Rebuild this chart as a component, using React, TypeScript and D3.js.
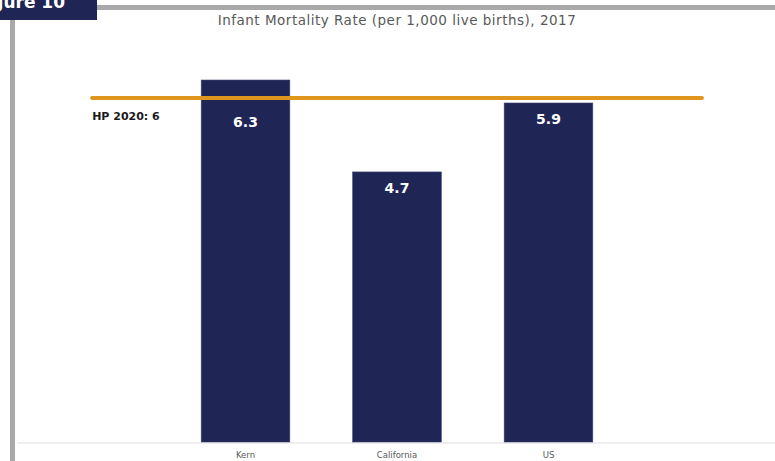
import React from "react";
import * as d3 from "d3";

const categories = ["Kern", "California", "US"];
const rates = [6.3, 4.7, 5.9];
const targetLabel = "HP 2020: 6";
const targetValue = 6;
const title = "Infant Mortality Rate (per 1,000 live births), 2017";
const figureTag = "Figure 10";

const W = 775;
const H = 461;
const NAVY = "#1f2656";
const ORANGE = "#e0951c";
const FONT = "'DejaVu Sans', Verdana, sans-serif";

export default function App() {
  const x = d3
    .scaleBand<string>()
    .domain(categories)
    .range([17, 777])
    .paddingInner(0.415)
    .paddingOuter(1.216);
  const y = d3.scaleLinear().domain([0, 7]).range([442, 39.8]);

  const step = x.step();
  const lineX1 = (x(categories[0]) as number) - step * 0.72;
  const lineX2 = (x(categories[categories.length - 1]) as number) + x.bandwidth() + step * 0.72;
  const yTarget = y(targetValue);

  return (
    <div style={{ position: "fixed", left: 0, top: 0 }}>
      <svg width={W} height={H} style={{ display: "block", background: "#fff" }}>
        {/* frame */}
        <rect x={0} y={5} width={W} height={5} fill="#a9a9a9" />
        <rect x={10} y={5} width={5} height={H} fill="#a9a9a9" />
        <rect x={0} y={0} width={97} height={20} fill={NAVY} />
        <text
          x={65}
          y={8}
          textAnchor="end"
          fill="#fff"
          fontFamily={FONT}
          fontWeight="bold"
          fontSize={17}
        >
          {figureTag}
        </text>

        <text
          x={397}
          y={25}
          textAnchor="middle"
          fill="#595959"
          fontFamily={FONT}
          fontSize={13.5}
          letterSpacing={0.5}
        >
          {title}
        </text>

        {/* baseline */}
        <line x1={17} x2={W} y1={443} y2={443} stroke="#efefef" strokeWidth={2} />

        {categories.map((c, i) => {
          const v = rates[i];
          const bx = x(c) as number;
          const top = y(v);
          const labelY = top < yTarget ? yTarget + 30 : top + 21;
          return (
            <g key={c}>
              <rect
                x={bx}
                y={top}
                width={x.bandwidth()}
                height={y(0) - top}
                fill={NAVY}
                stroke="#3a4170"
                strokeWidth={0.6}
              />
              <text
                x={bx + x.bandwidth() / 2}
                y={labelY}
                textAnchor="middle"
                fill="#fff"
                fontFamily={FONT}
                fontWeight="bold"
                fontSize={14}
              >
                {v.toFixed(1)}
              </text>
              <text
                x={bx + x.bandwidth() / 2}
                y={458}
                textAnchor="middle"
                fill="#595959"
                fontFamily={FONT}
                fontSize={8.5}
              >
                {c}
              </text>
            </g>
          );
        })}

        {/* target line */}
        <line
          x1={lineX1}
          x2={lineX2}
          y1={yTarget + 0.8}
          y2={yTarget + 0.8}
          stroke={ORANGE}
          strokeWidth={4}
          strokeLinecap="round"
        />
        <text x={lineX1} y={120} fill="#1a1a1a" fontFamily={FONT} fontWeight="bold" fontSize={11}>
          {targetLabel}
        </text>
      </svg>
    </div>
  );
}
